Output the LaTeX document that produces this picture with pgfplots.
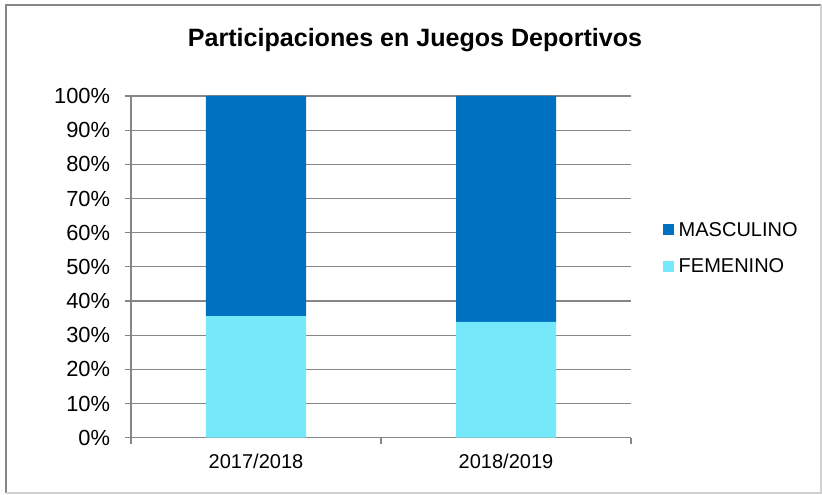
\documentclass[border=0pt]{standalone}
\usepackage{pgfplots}
\pgfplotsset{compat=1.18}
\usepackage{fontspec}
\setmainfont{Liberation Sans}
\definecolor{masc}{HTML}{0070C0}
\definecolor{fem}{HTML}{75E9F9}
\definecolor{gridg}{HTML}{868686}
\begin{document}
\begin{tikzpicture}[x=0.75pt,y=0.75pt]
\path[use as bounding box] (0,0) rectangle (822,494);
\draw[line width=1pt,color=gridg] (6,1) -- (6,489) -- (821,489);
\draw[line width=1pt,color=black!18] (821,489) -- (821,1) -- (6,1);
\node[anchor=base,font=\bfseries\fontsize{18.8}{22}\selectfont,inner sep=0pt] at (415,447.3) {Participaciones en Juegos Deportivos};
\begin{axis}[
  at={(98.25pt,42.225pt)}, anchor=origin,
  scale only axis, width=375pt, height=256.3pt,
  ybar stacked, bar width=0.4,
  xmin=0, xmax=2, ymin=0, ymax=100,
  xtick={0.5,1.5}, xticklabels={2017/2018,2018/2019},
  minor xtick={0,1,2},
  ytick={0,10,...,100},
  yticklabel={\pgfmathprintnumber{\tick}\%},
  /pgf/number format/assume math mode=true,
  axis x line*=bottom, axis y line*=left,
  axis line style={draw=gridg, line width=0.9pt},
  tick align=outside,
  major tick length=4.5pt, minor tick length=4.5pt,
  x tick style={draw=none},
  minor x tick style={draw=gridg, line width=0.9pt},
  y tick style={draw=gridg, line width=0.9pt},
  ymajorgrids, grid style={draw=gridg, line width=0.9pt},
  yticklabel style={font=\fontsize{16.4}{19}\selectfont, anchor=east, inner sep=0pt, xshift=-11pt},
  xticklabel style={font=\fontsize{15}{18}\selectfont, anchor=base, inner sep=0pt, yshift=-18.5pt},
  reverse legend,
  legend style={draw=none, fill=none, at={(1.064,0.638)}, anchor=north west,
    font=\fontsize{15}{18}\selectfont, row sep=11.25pt, inner sep=0pt,
    legend cell align=left},
  legend image code/.code={\fill[#1] (0pt,-3.6pt) rectangle (8.25pt,4.65pt); \path (0pt,0pt) -- (9.6pt,0pt);},
]
\addplot[fill=fem, draw=none] coordinates {(0.5,35.6) (1.5,33.9)};
\addplot[fill=masc, draw=none] coordinates {(0.5,64.4) (1.5,66.1)};
\legend{FEMENINO,MASCULINO}
\end{axis}
\end{tikzpicture}
\end{document}
